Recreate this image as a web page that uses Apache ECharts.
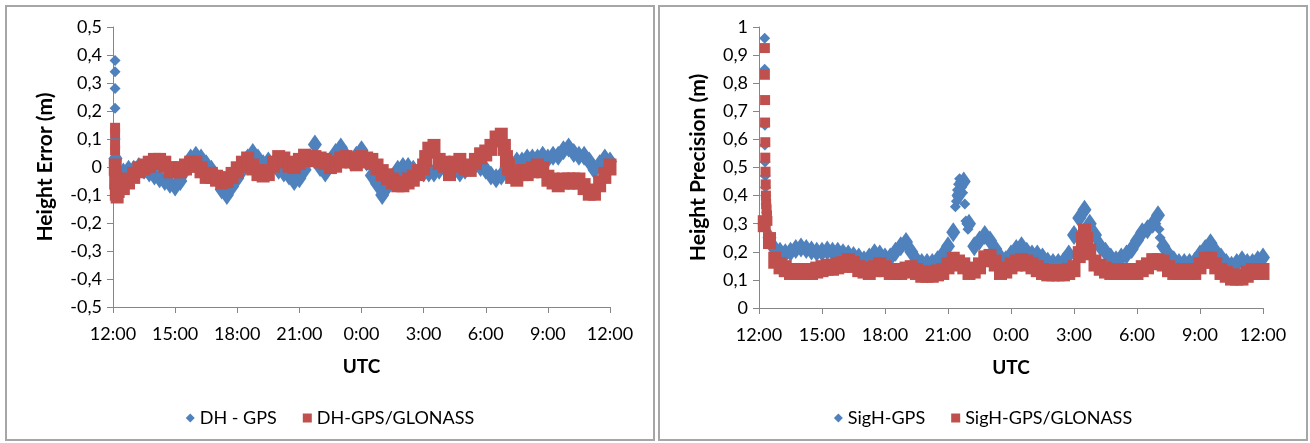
<!DOCTYPE html>
<html>
<head>
<meta charset="utf-8">
<script src="https://cdn.jsdelivr.net/npm/echarts@6/dist/echarts.min.js"></script>
<style>
  html, body { margin: 0; padding: 0; background: #fff; width: 1310px; height: 443px; overflow: hidden; }
  .panel { position: absolute; box-sizing: border-box; border: 2px solid #a6a6a6; background: #fff; }
  .panel > div { width: 100%; height: 100%; }
</style>
</head>
<body>
<div class="panel" style="left:5px; top:5px; width:650px; height:436px;"><div id="c1"></div></div>
<div class="panel" style="left:658px; top:5px; width:650px; height:436px;"><div id="c2"></div></div>
<script>
// ---- Tick labels ----
const X_TICKS = ['12:00', '15:00', '18:00', '21:00', '0:00', '3:00', '6:00', '9:00', '12:00'];

// ---- Time grid (hours after 12:00 UTC) ----
const HOURS = [
  0.25, 0.5, 0.75, 1, 1.25, 1.5, 1.75, 2, 2.25, 2.5, 2.75, 3,
  3.25, 3.5, 3.75, 4, 4.25, 4.5, 4.75, 5, 5.25, 5.5, 5.75, 6,
  6.25, 6.5, 6.75, 7, 7.25, 7.5, 7.75, 8, 8.25, 8.5, 8.75, 9,
  9.25, 9.5, 9.75, 10, 10.25, 10.5, 10.75, 11, 11.25, 11.5, 11.75, 12,
  12.25, 12.5, 12.75, 13, 13.25, 13.5, 13.75, 14, 14.25, 14.5, 14.75, 15,
  15.25, 15.5, 15.75, 16, 16.25, 16.5, 16.75, 17, 17.25, 17.5, 17.75, 18,
  18.25, 18.5, 18.75, 19, 19.25, 19.5, 19.75, 20, 20.25, 20.5, 20.75, 21,
  21.25, 21.5, 21.75, 22, 22.25, 22.5, 22.75, 23, 23.25, 23.5, 23.75, 24
];

// ---- Left chart: Height Error (m) ----
const DH_GPS = [
  -0.03, -0.02, -0.01, -0.01, 0.0, -0.01, -0.02, -0.03, -0.04, -0.05, -0.06, -0.07,
  -0.05, -0.01, 0.03, 0.04, 0.03, 0.01, -0.01, -0.04, -0.08, -0.1, -0.07, -0.04,
  -0.01, 0.03, 0.05, 0.03, 0.01, 0.02, 0.01, -0.01, -0.02, -0.03, -0.05, -0.04,
  -0.01, 0.03, 0.08, 0.0, -0.02, 0.02, 0.05, 0.07, 0.04, 0.02, 0.04, 0.06,
  0.02, -0.03, -0.06, -0.1, -0.07, -0.04, -0.01, 0.0, 0.0, -0.01, -0.02, -0.02,
  -0.02, -0.02, -0.01, 0.0, 0.0, -0.01, -0.02, -0.01, 0.0, 0.01, 0.0, -0.01,
  -0.03, -0.04, -0.03, 0.0, 0.01, 0.02, 0.02, 0.03, 0.03, 0.03, 0.04, 0.03,
  0.04, 0.04, 0.06, 0.07, 0.05, 0.04, 0.04, 0.02, -0.01, 0.01, 0.03, 0.02
];
const DH_GLO = [
  -0.08, -0.07, -0.05, -0.03, -0.01, 0.0, 0.01, 0.02, 0.02, 0.01, -0.01, -0.01,
  -0.01, 0.0, 0.01, 0.01, -0.01, -0.03, -0.03, -0.04, -0.05, -0.045, -0.03, -0.01,
  0.01, 0.025, 0.0, -0.02, -0.025, -0.02, 0.01, 0.03, 0.025, 0.01, 0.005, 0.02,
  0.035, 0.03, 0.03, 0.025, 0.02, 0.005, 0.01, 0.025, 0.03, 0.025, 0.015, 0.03,
  0.025, 0.02, 0.0, -0.02, -0.035, -0.05, -0.06, -0.06, -0.05, -0.04, -0.02, 0.0,
  0.06, 0.07, 0.02, 0.01, -0.02, 0.01, 0.02, 0.0, -0.005, 0.02, 0.04, 0.05,
  0.07, 0.1, 0.11, 0.03, -0.03, -0.04, -0.02, -0.02, -0.01, 0.0, -0.01, -0.04,
  -0.05, -0.06, -0.05, -0.05, -0.05, -0.05, -0.07, -0.09, -0.09, -0.06, -0.03, 0.0
];
// start-up transient (first minutes after 12:00) and steep steps
const DH_GPS_START_T = [0.1, 0.1, 0.1, 0.1, 0.11, 0.12, 0.14];
const DH_GPS_START_V = [0.38, 0.34, 0.28, 0.21, 0.1, 0.03, -0.03];
const DH_GLO_START_T = [0.1, 0.1, 0.1, 0.1, 0.11, 0.13, 0.16, 0.2, 15.1, 18.9, 19.1];
const DH_GLO_START_V = [0.14, 0.12, 0.08, 0.06, 0.0, -0.05, -0.09, -0.1, 0.03, 0.07, 0.0];

// ---- Right chart: Height Precision (m) ----
const SIGH_GPS = [
  0.3, 0.25, 0.21, 0.2, 0.195, 0.2, 0.21, 0.215, 0.21, 0.205, 0.2, 0.2,
  0.205, 0.2, 0.2, 0.195, 0.19, 0.185, 0.18, 0.17, 0.18, 0.195, 0.19, 0.18,
  0.18, 0.2, 0.22, 0.235, 0.2, 0.17, 0.16, 0.16, 0.16, 0.17, 0.19, 0.22,
  0.27, 0.4, 0.45, 0.3, 0.22, 0.24, 0.26, 0.24, 0.21, 0.18, 0.17, 0.19,
  0.21, 0.22, 0.2, 0.19, 0.19, 0.18, 0.165, 0.16, 0.16, 0.165, 0.19, 0.26,
  0.32, 0.35, 0.3, 0.26, 0.22, 0.2, 0.18, 0.17, 0.18, 0.19, 0.21, 0.24,
  0.27, 0.28, 0.3, 0.33, 0.22, 0.19, 0.17, 0.16, 0.16, 0.16, 0.165, 0.19,
  0.21, 0.23, 0.2, 0.18, 0.16, 0.15, 0.16, 0.17, 0.16, 0.16, 0.17, 0.18
];
const SIGH_GLO = [
  0.3, 0.24, 0.17, 0.15, 0.14, 0.13, 0.13, 0.13, 0.13, 0.13, 0.135, 0.14,
  0.145, 0.145, 0.15, 0.155, 0.165, 0.155, 0.14, 0.135, 0.13, 0.14, 0.15, 0.14,
  0.13, 0.13, 0.13, 0.135, 0.14, 0.13, 0.12, 0.12, 0.12, 0.125, 0.13, 0.15,
  0.17, 0.16, 0.15, 0.13, 0.135, 0.15, 0.175, 0.18, 0.16, 0.13, 0.135, 0.15,
  0.16, 0.165, 0.16, 0.15, 0.14, 0.13, 0.125, 0.125, 0.125, 0.125, 0.13, 0.14,
  0.19, 0.27, 0.2, 0.16, 0.145, 0.135, 0.13, 0.13, 0.13, 0.13, 0.13, 0.13,
  0.14, 0.15, 0.165, 0.165, 0.16, 0.14, 0.13, 0.13, 0.13, 0.13, 0.13, 0.15,
  0.17, 0.17, 0.15, 0.13, 0.12, 0.11, 0.11, 0.11, 0.12, 0.13, 0.13, 0.13
];
// start-up transient and short peaks
const SIGH_GPS_EXTRA_T = [0.27, 0.27, 0.28, 0.28, 0.29, 0.3, 0.31, 0.32, 0.34, 0.36,
  9.35, 9.4, 9.45, 9.5, 9.55, 9.6, 9.65, 9.7, 9.8, 9.85, 9.9, 9.95,
  18.9, 18.95, 19.05, 19.1];
const SIGH_GPS_EXTRA_V = [0.96, 0.85, 0.65, 0.58, 0.52, 0.47, 0.43, 0.4, 0.37, 0.34,
  0.36, 0.38, 0.42, 0.44, 0.46, 0.45, 0.43, 0.41, 0.37, 0.31, 0.3, 0.28,
  0.3, 0.32, 0.28, 0.25];
const SIGH_GLO_EXTRA_T = [0.28, 0.28, 0.29, 0.29, 0.3, 0.3, 0.31, 0.32, 0.33, 0.34, 0.36, 0.38, 0.4,
  15.4, 15.6];
const SIGH_GLO_EXTRA_V = [0.925, 0.83, 0.74, 0.66, 0.59, 0.535, 0.485, 0.44, 0.4, 0.37, 0.35, 0.33, 0.31,
  0.24, 0.24];

// ---- helpers ----
const FONT = 'Lato, "Open Sans", sans-serif';
const BLUE = '#4f81bd';
const RED = '#c0504d';
const AXIS_GRAY = '#868686';

function pairs(t, v) { return t.map((x, i) => [x, v[i]]); }
function yFmt(v) {
  if (Math.abs(v) < 1e-9) return '0';
  if (Math.abs(v - 1) < 1e-9) return '1';
  return v.toFixed(1).replace('.', ',');
}

function makeOption(cfg) {
  const nG = cfg.nGpsSmall, nR = cfg.nGloSmall;
  return {
    animation: false,
    backgroundColor: '#fff',
    textStyle: { fontFamily: FONT },
    grid: cfg.grid,
    legend: {
      top: 397, left: 'center',
      itemWidth: 9, itemHeight: 9, itemGap: 26,
      textStyle: { fontFamily: FONT, fontSize: 18, color: '#000' },
      data: [
        { name: cfg.names[0], icon: 'diamond' },
        { name: cfg.names[1], icon: 'rect' }
      ]
    },
    xAxis: {
      type: 'value', min: 0, max: 24, interval: 3,
      axisLine: { show: true, onZero: false, lineStyle: { color: AXIS_GRAY, width: 1 } },
      axisTick: { show: true, inside: false, length: 6, lineStyle: { color: AXIS_GRAY } },
      splitLine: { show: false },
      axisLabel: {
        margin: 18, fontSize: 18, color: '#000', fontFamily: FONT,
        formatter: v => X_TICKS[Math.round(v / 3)]
      },
      name: 'UTC', nameLocation: 'middle', nameGap: 50,
      nameTextStyle: { fontSize: 19, fontWeight: 'bold', color: '#000', fontFamily: FONT }
    },
    yAxis: {
      type: 'value', min: cfg.ymin, max: cfg.ymax, interval: 0.1,
      axisLine: { show: true, onZero: false, lineStyle: { color: AXIS_GRAY, width: 1 } },
      axisTick: { show: true, inside: false, length: 6, lineStyle: { color: AXIS_GRAY } },
      splitLine: { show: false },
      axisLabel: { margin: 11, fontSize: 18, color: '#000', fontFamily: FONT, formatter: yFmt },
      name: cfg.yName, nameLocation: 'middle', nameGap: cfg.nameGap,
      nameTextStyle: { fontSize: 21, fontWeight: 'bold', color: '#000', fontFamily: FONT }
    },
    series: [
      {
        name: cfg.names[0], type: 'scatter', symbol: 'diamond',
        symbolSize: (v, p) => p.dataIndex < nG ? [11, 11] : [14, 20],
        itemStyle: { color: BLUE, opacity: 1 },
        data: cfg.gps, z: 2
      },
      {
        name: cfg.names[1], type: 'scatter', symbol: 'rect',
        symbolSize: (v, p) => p.dataIndex < nR ? [10, 10] : [13, 17],
        itemStyle: { color: RED, opacity: 1 },
        data: cfg.glo, z: 3
      }
    ]
  };
}

const c1 = echarts.init(document.getElementById('c1'), null, { renderer: 'canvas' });
c1.setOption(makeOption({
  grid: { left: 106, right: 43, top: 20, bottom: 132 },
  names: ['DH - GPS', 'DH-GPS/GLONASS'],
  ymin: -0.5, ymax: 0.5,
  yName: 'Height Error (m)', nameGap: 57,
  nGpsSmall: 5, nGloSmall: 4,
  gps: pairs(DH_GPS_START_T, DH_GPS_START_V).concat(pairs(HOURS, DH_GPS)),
  glo: pairs(DH_GLO_START_T, DH_GLO_START_V).concat(pairs(HOURS, DH_GLO))
}));

const c2 = echarts.init(document.getElementById('c2'), null, { renderer: 'canvas' });
c2.setOption(makeOption({
  grid: { left: 99, right: 43, top: 20, bottom: 131 },
  names: ['SigH-GPS', 'SigH-GPS/GLONASS'],
  ymin: 0, ymax: 1,
  yName: 'Height Precision (m)', nameGap: 50,
  nGpsSmall: SIGH_GPS_EXTRA_T.length, nGloSmall: 13,
  gps: pairs(SIGH_GPS_EXTRA_T, SIGH_GPS_EXTRA_V).concat(pairs(HOURS, SIGH_GPS)),
  glo: pairs(SIGH_GLO_EXTRA_T, SIGH_GLO_EXTRA_V).concat(pairs(HOURS, SIGH_GLO))
}));
</script>
</body>
</html>
